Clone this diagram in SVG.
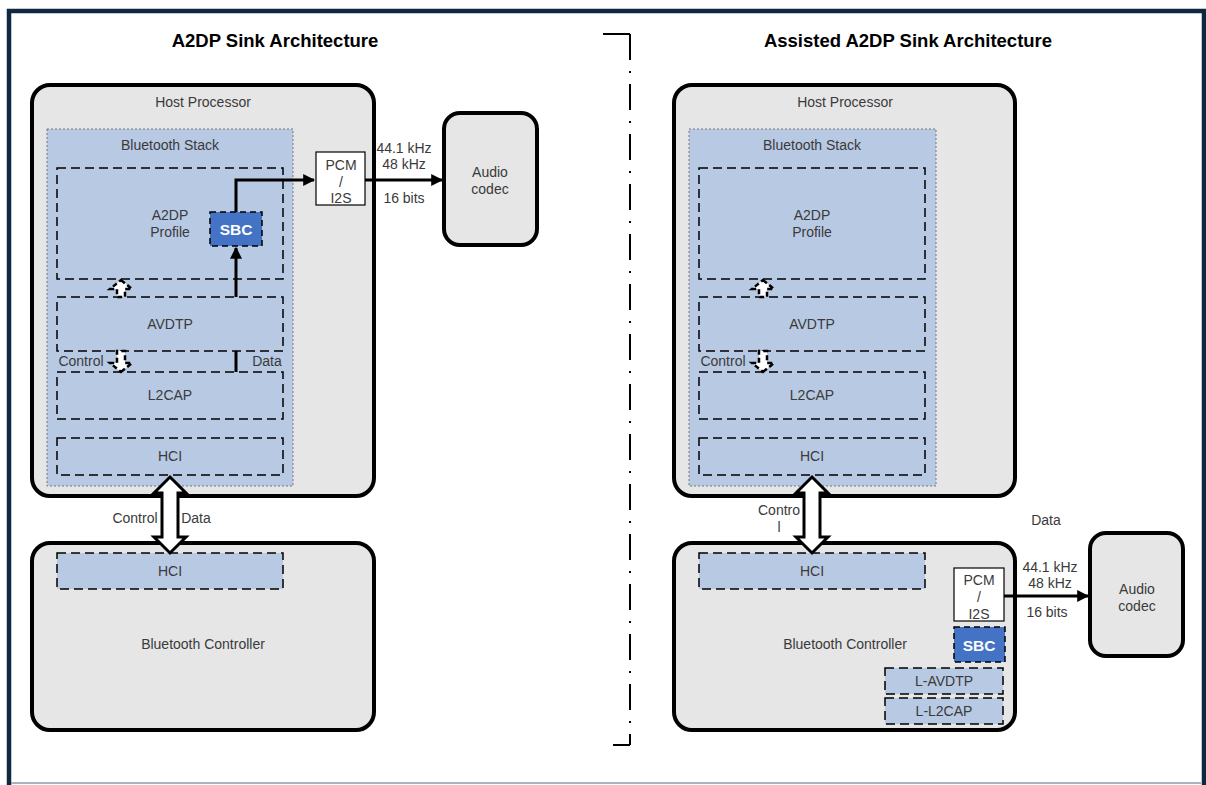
<svg xmlns="http://www.w3.org/2000/svg" width="1206" height="785" viewBox="0 0 1206 785">
<defs>
<marker id="ah" viewBox="0 0 10 10" refX="9" refY="5" markerWidth="4" markerHeight="4" markerUnits="strokeWidth" orient="auto"><path d="M0,0 L10,5 L0,10 z" fill="#000"/></marker>
<style>
text{font-family:"Liberation Sans",Arial,sans-serif;font-size:14px;fill:#3a3a3a;text-anchor:middle}
.title{font-size:18.5px;font-weight:bold;fill:#000}
.box{fill:#e6e6e6;stroke:#000;stroke-width:4}
.stack{fill:#b8c9e3;stroke:#777;stroke-width:1;stroke-dasharray:2 2}
.layer{fill:#b8c9e3;stroke:#000;stroke-width:1.5;stroke-dasharray:9 5}
.sbc{fill:#4472c4;stroke:#000;stroke-width:1.5;stroke-dasharray:6 4}
.sbct{fill:#fff;font-weight:bold;font-size:15.5px}
.pcm{fill:#fff;stroke:#000;stroke-width:1.2}
.wire{fill:none;stroke:#000;stroke-width:3}
.sarrow{fill:#fff;stroke:#000;stroke-width:2.5;stroke-dasharray:5 3}
.barrow{fill:#fff;stroke:#000;stroke-width:3}
</style>
</defs>
<rect width="1206" height="785" fill="#fff"/>
<g id="frame">
<path d="M9,785 V11 H1204 V785" fill="none" stroke="#0e2841" stroke-width="4.5"/>
<line x1="11" y1="783" x2="1201" y2="783" stroke="#8a9aa8" stroke-width="1.5"/>
</g>
<g id="divider" fill="none" stroke="#000" stroke-width="2">
<path d="M603,34 H630 M613,745 H630"/>
<line x1="630" y1="34" x2="630" y2="745" stroke-dasharray="26 11 2 11"/>
</g>
<text class="title" x="275" y="47">A2DP Sink Architecture</text>
<text class="title" x="908" y="47">Assisted A2DP Sink Architecture</text>

<g id="L-host"><rect class="box" x="32" y="85" width="342" height="411" rx="18"/><text x="203" y="107">Host Processor</text></g>
<g id="L-stack"><rect class="stack" x="47" y="129" width="246" height="357"/><text x="170" y="150">Bluetooth Stack</text></g>
<g id="L-a2dp"><rect class="layer" x="57" y="168" width="226" height="111"/><text x="170" y="220">A2DP</text><text x="170" y="237">Profile</text></g>
<g id="L-sbc"><rect class="sbc" x="210" y="212" width="52" height="34"/><text class="sbct" x="236" y="235">SBC</text></g>
<g id="L-avdtp"><rect class="layer" x="57" y="297" width="226" height="54"/><text x="170" y="329">AVDTP</text></g>
<g id="L-l2cap"><rect class="layer" x="57" y="372" width="226" height="47"/><text x="170" y="400">L2CAP</text></g>
<g id="L-hci"><rect class="layer" x="57" y="438" width="226" height="37"/><text x="170" y="461">HCI</text></g>
<g id="L-pcm"><rect class="pcm" x="316" y="152" width="49" height="53"/><text x="341" y="170">PCM</text><text x="341" y="187">/</text><text x="341" y="203">I2S</text></g>
<g id="L-codec"><rect class="box" x="444" y="113" width="93" height="132" rx="16"/><text x="490" y="177">Audio</text><text x="490" y="194">codec</text></g>
<g id="L-ctrl"><rect class="box" x="32" y="543" width="342" height="187" rx="18"/><text x="203" y="649">Bluetooth Controller</text></g>
<g id="L-chci"><rect class="layer" x="57" y="553" width="226" height="36"/><text x="170" y="576">HCI</text></g>

<g id="R-host"><rect class="box" x="674" y="85" width="341" height="411" rx="18"/><text x="845" y="107">Host Processor</text></g>
<g id="R-stack"><rect class="stack" x="689" y="129" width="247" height="357"/><text x="812" y="150">Bluetooth Stack</text></g>
<g id="R-a2dp"><rect class="layer" x="699" y="168" width="226" height="111"/><text x="812" y="220">A2DP</text><text x="812" y="237">Profile</text></g>
<g id="R-avdtp"><rect class="layer" x="699" y="297" width="226" height="54"/><text x="812" y="329">AVDTP</text></g>
<g id="R-l2cap"><rect class="layer" x="699" y="372" width="226" height="47"/><text x="812" y="400">L2CAP</text></g>
<g id="R-hci"><rect class="layer" x="699" y="438" width="226" height="37"/><text x="812" y="461">HCI</text></g>
<g id="R-ctrl"><rect class="box" x="674" y="543" width="341" height="187" rx="18"/><text x="845" y="649">Bluetooth Controller</text></g>
<g id="R-chci"><rect class="layer" x="699" y="553" width="226" height="36"/><text x="812" y="576">HCI</text></g>
<g id="R-pcm"><rect class="pcm" x="954" y="568" width="50" height="53"/><text x="979" y="585">PCM</text><text x="979" y="602">/</text><text x="979" y="619">I2S</text></g>
<g id="R-sbc"><rect class="sbc" x="954" y="627" width="51" height="35"/><text class="sbct" x="979" y="651">SBC</text></g>
<g id="R-lavdtp"><rect class="layer" x="885" y="668" width="118" height="26"/><text x="944" y="686">L-AVDTP</text></g>
<g id="R-ll2cap"><rect class="layer" x="885" y="698" width="118" height="26"/><text x="944" y="716">L-L2CAP</text></g>
<g id="R-codec"><rect class="box" x="1090" y="533" width="93" height="123" rx="16"/><text x="1137" y="594">Audio</text><text x="1137" y="611">codec</text></g>

<g id="connectors">
<path class="wire" d="M236,297 V248" marker-end="url(#ah)"/>
<path class="wire" d="M236,372 V351"/>
<path class="wire" d="M236,212 V180 H314" marker-end="url(#ah)"/>
<path class="wire" d="M365,180 H442" marker-end="url(#ah)"/>
<path class="wire" d="M1004,596 H1088" marker-end="url(#ah)"/>
<polygon class="sarrow" points="121,280 132,289 125,289 125,297 117,297 117,289 110,289"/>
<polygon class="sarrow" points="121,372 132,363 125,363 125,351 117,351 117,363 110,363"/>
<polygon class="sarrow" points="763,280 774,289 767,289 767,297 759,297 759,289 752,289"/>
<polygon class="sarrow" points="763,372 774,363 767,363 767,351 759,351 759,363 752,363"/>
<polygon class="barrow" points="170,477 186,493 178,493 178,537 186,537 170,553 154,537 162,537 162,493 154,493"/>
<polygon class="barrow" points="812,477 828,493 820,493 820,537 828,537 812,553 796,537 804,537 804,493 796,493"/>
</g>
<g id="labels">
<text x="404" y="153">44.1 kHz</text><text x="404" y="169">48 kHz</text><text x="404" y="203">16 bits</text>
<text x="81" y="366">Control</text><text x="267" y="366">Data</text>
<text x="135" y="523">Control</text><text x="196" y="523">Data</text>
<text x="723" y="366">Control</text>
<text x="779" y="515">Contro</text><text x="779" y="532">l</text>
<text x="1046" y="525">Data</text>
<text x="1050" y="572">44.1 kHz</text><text x="1050" y="588">48 kHz</text><text x="1047" y="617">16 bits</text>
</g>
</svg>
